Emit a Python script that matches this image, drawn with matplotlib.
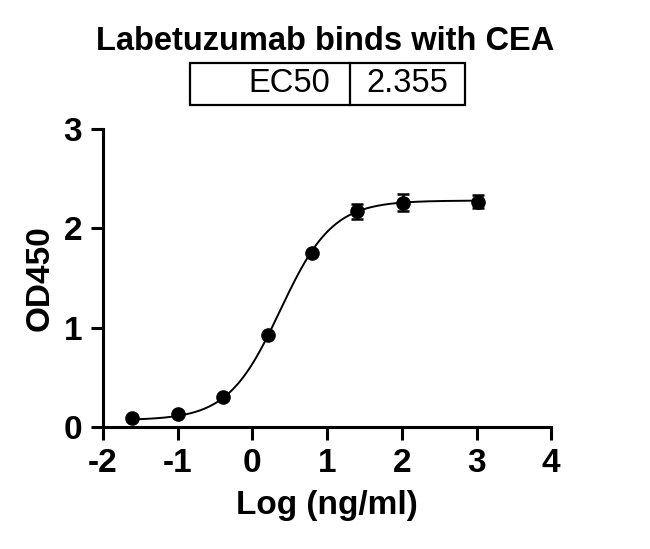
import numpy as np
import matplotlib

matplotlib.use("Agg")
import matplotlib.pyplot as plt

plt.rcParams["font.family"] = ["Liberation Sans", "DejaVu Sans"]
plt.rcParams["font.weight"] = "bold"
plt.rcParams["axes.unicode_minus"] = False

# measured points (log conc, OD450, SD)
log_conc = [-1.61, -1.0, -0.40, 0.21, 0.80, 1.40, 2.01, 3.02]
od450 = [0.087, 0.137, 0.304, 0.923, 1.748, 2.17, 2.26, 2.27]
od_err = [0.0, 0.0, 0.0, 0.0, 0.0, 0.075, 0.09, 0.065]

# 4PL fit parameters
bottom = 0.07
top = 2.28
ec50 = 2.355
hill = 1.24

fig = plt.figure(figsize=(6.5, 5.49), dpi=100)
ax = fig.add_axes([0.1585, 0.222, 0.6895, 0.543])

xs = np.linspace(min(log_conc), max(log_conc), 300)
fit = bottom + (top - bottom) / (1 + 10 ** (hill * (np.log10(ec50) - xs)))
ax.plot(xs, fit, color="black", linewidth=1.4)
ax.errorbar(log_conc, od450, yerr=od_err, fmt="o", color="black", markersize=9.5,
            elinewidth=1.8, capsize=4.5, capthick=1.8)

ax.set_xlim(-2, 4)
ax.set_ylim(0, 3)
ax.set_xticks(range(-2, 5))
ax.set_yticks([0, 1, 2, 3])
for side in ["top", "right"]:
    ax.spines[side].set_visible(False)
for side in ["left", "bottom"]:
    ax.spines[side].set_linewidth(2.2)
ax.tick_params(width=2.2, length=9, labelsize=24, pad=6)
for lab in ax.get_xticklabels() + ax.get_yticklabels():
    lab.set_fontweight("bold")
ax.set_xlabel("Log (ng/ml)", fontsize=24, fontweight="bold", labelpad=8)
ax.set_ylabel("OD450", fontsize=24, fontweight="bold", labelpad=6)

fig.text(0.5, 1 - 42 / 549, "Labetuzumab binds with CEA", ha="center", va="center",
         fontsize=23.5, fontweight="bold")

# EC50 table
tbl_left, tbl_right, tbl_mid = 190 / 650, 465 / 650, 350 / 650
tbl_bot, tbl_top = 1 - 105 / 549, 1 - 63 / 549
fig.patches.append(plt.Rectangle((tbl_left, tbl_bot), tbl_right - tbl_left, tbl_top - tbl_bot,
                                 transform=fig.transFigure, fill=False, edgecolor="black",
                                 linewidth=1.6))
fig.add_artist(plt.Line2D([tbl_mid, tbl_mid], [tbl_bot, tbl_top], transform=fig.transFigure,
                          color="black", linewidth=1.6))
fig.text(tbl_mid - 20 / 650, (tbl_bot + tbl_top) / 2, "EC50", ha="right", va="center",
         fontsize=23.5, fontweight="normal")
fig.text(tbl_mid + 16 / 650, (tbl_bot + tbl_top) / 2, f"{ec50:.3f}", ha="left", va="center",
         fontsize=23.5, fontweight="normal")

fig.savefig("out.png", dpi=100)
